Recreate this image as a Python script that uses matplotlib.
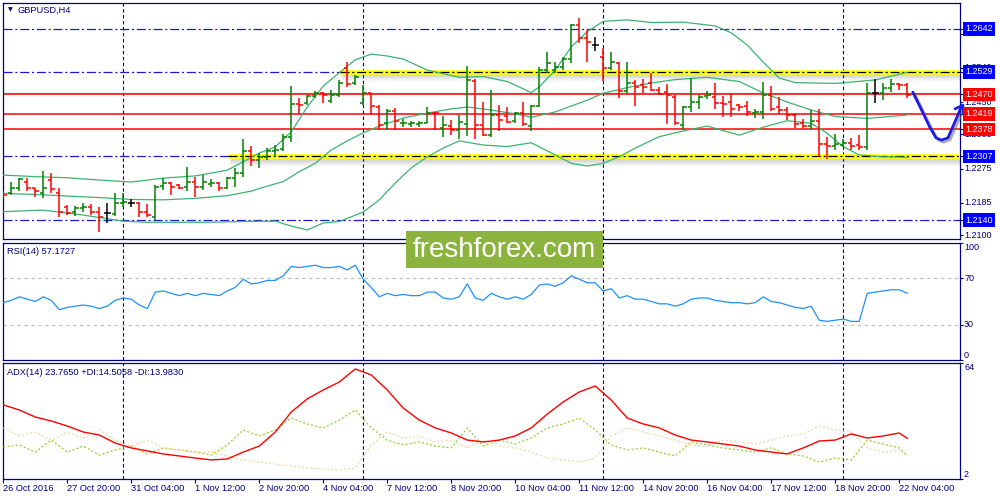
import matplotlib
matplotlib.use("Agg")
import matplotlib.pyplot as plt
import matplotlib.patheffects as pe
from matplotlib.patches import Rectangle
from matplotlib.transforms import blended_transform_factory

# ---------------- data ----------------
x_labels = ["26 Oct 2016", "27 Oct 20:00", "31 Oct 04:00", "1 Nov 12:00", "2 Nov 20:00",
            "4 Nov 04:00", "7 Nov 12:00", "8 Nov 20:00", "10 Nov 04:00", "11 Nov 12:00",
            "14 Nov 20:00", "16 Nov 04:00", "17 Nov 12:00", "18 Nov 20:00", "22 Nov 04:00"]
x_label_bars = [0, 8, 16, 24, 32, 40, 48, 56, 64, 72, 80, 88, 96, 104, 112]
sep_bars = [15, 45, 75, 105]

opens = [1.2210, 1.2210, 1.2223, 1.2241, 1.2223, 1.2210, 1.2245, 1.2210, 1.2175, 1.2162,
         1.2172, 1.2175, 1.2162, 1.2158, 1.2156, 1.2184, 1.2186, 1.2186, 1.2162, 1.2149,
         1.2229, 1.2238, 1.2232, 1.2228, 1.2241, 1.2228, 1.2235, 1.2238, 1.2223, 1.2250,
         1.2263, 1.2322, 1.2299, 1.2306, 1.2322, 1.2326, 1.2357, 1.2445, 1.2447, 1.2466,
         1.2473, 1.2454, 1.2469, 1.2539, 1.2499, 1.2447, 1.2473, 1.2438, 1.2394, 1.2427,
         1.2394, 1.2392, 1.2392, 1.2396, 1.2422, 1.2381, 1.2387, 1.2377, 1.2392, 1.2506,
         1.2390, 1.2363, 1.2416, 1.2413, 1.2401, 1.2420, 1.2387, 1.2440, 1.2534, 1.2534,
         1.2543, 1.2562, 1.2653, 1.2618, 1.2600, 1.2569, 1.2539, 1.2552, 1.2480, 1.2499,
         1.2495, 1.2499, 1.2482, 1.2477, 1.2464, 1.2390, 1.2438, 1.2451, 1.2466, 1.2464,
         1.2447, 1.2451, 1.2442, 1.2440, 1.2420, 1.2425, 1.2469, 1.2438, 1.2429, 1.2416,
         1.2394, 1.2387, 1.2399, 1.2340, 1.2335, 1.2337, 1.2343, 1.2337, 1.2331, 1.2473,
         1.2473, 1.2486, 1.2498, 1.2495]
highs = [1.2215, 1.2241, 1.2250, 1.2250, 1.2225, 1.2269, 1.2263, 1.2223, 1.2179, 1.2177,
         1.2184, 1.2182, 1.2175, 1.2186, 1.2212, 1.2212, 1.2194, 1.2188, 1.2182, 1.2232,
         1.2250, 1.2241, 1.2235, 1.2280, 1.2254, 1.2258, 1.2247, 1.2241, 1.2254, 1.2276,
         1.2353, 1.2335, 1.2315, 1.2328, 1.2337, 1.2366, 1.2492, 1.2460, 1.2469, 1.2479,
         1.2477, 1.2482, 1.2508, 1.2556, 1.2521, 1.2495, 1.2475, 1.2442, 1.2431, 1.2434,
         1.2405, 1.2401, 1.2401, 1.2436, 1.2425, 1.2413, 1.2403, 1.2416, 1.2545, 1.2510,
         1.2451, 1.2482, 1.2441, 1.2438, 1.2425, 1.2451, 1.2441, 1.2543, 1.2581, 1.2556,
         1.2569, 1.2655, 1.2670, 1.2639, 1.2620, 1.2591, 1.2582, 1.2556, 1.2554, 1.2508,
         1.2510, 1.2526, 1.2490, 1.2498, 1.2469, 1.2440, 1.2512, 1.2469, 1.2480, 1.2501,
         1.2466, 1.2473, 1.2445, 1.2453, 1.2433, 1.2504, 1.2491, 1.2464, 1.2438, 1.2422,
         1.2405, 1.2429, 1.2433, 1.2357, 1.2366, 1.2352, 1.2355, 1.2363, 1.2499, 1.2510,
         1.2501, 1.2510, 1.2499, 1.2499]
lows = [1.2194, 1.2206, 1.2217, 1.2215, 1.2201, 1.2197, 1.2210, 1.2147, 1.2153, 1.2151,
        1.2162, 1.2153, 1.2109, 1.2133, 1.2151, 1.2175, 1.2175, 1.2149, 1.2149, 1.2140,
        1.2219, 1.2207, 1.2221, 1.2215, 1.2201, 1.2219, 1.2228, 1.2217, 1.2221, 1.2228,
        1.2254, 1.2282, 1.2276, 1.2298, 1.2306, 1.2322, 1.2346, 1.2419, 1.2442, 1.2460,
        1.2448, 1.2447, 1.2464, 1.2489, 1.2495, 1.2442, 1.2416, 1.2378, 1.2377, 1.2377,
        1.2384, 1.2384, 1.2384, 1.2396, 1.2377, 1.2357, 1.2363, 1.2352, 1.2361, 1.2352,
        1.2361, 1.2357, 1.2375, 1.2396, 1.2396, 1.2387, 1.2375, 1.2438, 1.2526, 1.2526,
        1.2534, 1.2552, 1.2604, 1.2556, 1.2585, 1.2505, 1.2534, 1.2460, 1.2475, 1.2440,
        1.2475, 1.2480, 1.2469, 1.2392, 1.2390, 1.2378, 1.2425, 1.2431, 1.2457, 1.2431,
        1.2410, 1.2410, 1.2427, 1.2413, 1.2407, 1.2406, 1.2427, 1.2419, 1.2403, 1.2381,
        1.2381, 1.2378, 1.2305, 1.2300, 1.2324, 1.2333, 1.2324, 1.2324, 1.2324, 1.2448,
        1.2455, 1.2477, 1.2482, 1.2460]
closes = [1.2206, 1.2225, 1.2247, 1.2225, 1.2215, 1.2223, 1.2221, 1.2162, 1.2159, 1.2172,
          1.2175, 1.2162, 1.2149, 1.2158, 1.2186, 1.2188, 1.2186, 1.2162, 1.2153, 1.2228,
          1.2238, 1.2228, 1.2225, 1.2241, 1.2228, 1.2241, 1.2238, 1.2223, 1.2250, 1.2263,
          1.2322, 1.2299, 1.2306, 1.2322, 1.2324, 1.2357, 1.2445, 1.2442, 1.2466, 1.2475,
          1.2469, 1.2469, 1.2501, 1.2497, 1.2517, 1.2473, 1.2440, 1.2390, 1.2427, 1.2401,
          1.2396, 1.2396, 1.2396, 1.2422, 1.2420, 1.2390, 1.2377, 1.2398, 1.2508, 1.2390,
          1.2363, 1.2416, 1.2403, 1.2398, 1.2420, 1.2392, 1.2440, 1.2534, 1.2552, 1.2543,
          1.2562, 1.2653, 1.2618, 1.2609, 1.2600, 1.2539, 1.2556, 1.2480, 1.2499, 1.2489,
          1.2490, 1.2482, 1.2471, 1.2469, 1.2394, 1.2438, 1.2451, 1.2464, 1.2469, 1.2447,
          1.2445, 1.2433, 1.2438, 1.2425, 1.2425, 1.2469, 1.2433, 1.2429, 1.2416, 1.2392,
          1.2387, 1.2399, 1.2340, 1.2335, 1.2340, 1.2342, 1.2335, 1.2333, 1.2473, 1.2473,
          1.2486, 1.2498, 1.2495, 1.2469]

bb_upper_idx = [0, 4, 8, 12, 16, 20, 24, 28, 30, 32, 34, 36, 38, 40, 42, 44, 46, 48, 50, 53,
                57, 60, 63, 66, 67, 69, 71, 73, 75, 78, 81, 85, 89, 91, 93, 95, 97, 99, 104, 109, 113]
bb_upper = [1.2258, 1.2254, 1.2251, 1.2245, 1.2240, 1.2250, 1.2256, 1.2271, 1.2293, 1.2316,
            1.2332, 1.2372, 1.2437, 1.2492, 1.2527, 1.2561, 1.2576, 1.2571, 1.2563, 1.2534,
            1.2515, 1.2517, 1.2504, 1.2475, 1.2490, 1.2534, 1.2595, 1.2635, 1.2662, 1.2666,
            1.2659, 1.2660, 1.2650, 1.2632, 1.2600, 1.2555, 1.2513, 1.2501, 1.2499, 1.2508, 1.2528]
bb_mid_idx = [0, 4, 8, 12, 16, 20, 24, 28, 31, 33, 35, 37, 39, 41, 43, 45, 47, 50, 53, 56,
              58, 61, 64, 66, 69, 73, 75, 78, 81, 84, 88, 92, 95, 98, 101, 104, 108, 113]
bb_mid = [1.2210, 1.2207, 1.2203, 1.2199, 1.2194, 1.2193, 1.2197, 1.2204, 1.2216, 1.2229,
          1.2241, 1.2267, 1.2289, 1.2324, 1.2348, 1.2369, 1.2387, 1.2408, 1.2421, 1.2432,
          1.2437, 1.2429, 1.2419, 1.2410, 1.2424, 1.2455, 1.2473, 1.2488, 1.2500, 1.2509,
          1.2515, 1.2504, 1.2474, 1.2450, 1.2429, 1.2412, 1.2407, 1.2416]
bb_lower_idx = [0, 5, 10, 15, 18, 25, 30, 34, 36, 38, 40, 42, 45, 47, 49, 51, 53, 55, 57, 60,
                63, 66, 69, 71, 73, 75, 77, 79, 82, 85, 88, 92, 95, 98, 101, 103, 105, 107, 110, 113]
bb_lower = [1.2162, 1.2166, 1.2153, 1.2137, 1.2134, 1.2134, 1.2136, 1.2137, 1.2124, 1.2114,
            1.2132, 1.2136, 1.2161, 1.2193, 1.2237, 1.2277, 1.2306, 1.2329, 1.2348, 1.2337,
            1.2333, 1.2343, 1.2311, 1.2289, 1.2282, 1.2289, 1.2306, 1.2329, 1.2359, 1.2374,
            1.2387, 1.2363, 1.2384, 1.2401, 1.2394, 1.2368, 1.2333, 1.2311, 1.2306, 1.2305]

rsi = [49, 51, 54, 52, 50, 54, 51, 43, 45, 46, 47, 46, 44, 46, 51, 53, 52, 47, 44, 58,
       59, 57, 55, 57, 55, 57, 56, 55, 59, 62, 69, 65, 66, 68, 68, 72, 80, 79, 80, 81,
       79, 79, 80, 77, 81, 69, 62, 54, 57, 55, 56, 55, 55, 58, 58, 53, 52, 54, 65, 53,
       51, 57, 54, 52, 54, 52, 56, 64, 65, 63, 66, 72, 69, 66, 66, 59, 61, 53, 55, 52,
       52, 50, 48, 48, 46, 48, 52, 53, 53, 51, 50, 49, 49, 48, 49, 54, 50, 49, 47, 45,
       44, 46, 34, 33, 34, 35, 33, 33, 57, 58, 59, 60, 60, 57.1727]

adx_idx = list(range(0, 113, 2)) + [113]
adx = [41.6, 38.9, 35.1, 33.0, 30.3, 27.1, 25.5, 21.2, 18.6, 17.0, 15.4, 14.3, 13.2, 12.2, 12.7,
       16.4, 19.6, 27.1, 37.8, 44.8, 49.6, 53.8, 60.8, 57.6, 49.6, 39.9, 33.5, 29.3, 26.6, 22.8,
       21.8, 22.8, 25.0, 29.3, 36.7, 43.2, 48.5, 51.7, 44.2, 34.6, 31.4, 29.3, 25.5, 22.8, 21.8,
       20.7, 19.6, 17.5, 16.4, 15.4, 18.6, 22.3, 22.8, 26.1, 23.9, 25.0, 26.6, 23.765]
plus_di = [19.1, 20.2, 16.4, 22.8, 16.4, 19.6, 14.8, 17.5, 19.6, 15.4, 18.6, 17.5, 16.4, 14.8, 20.2,
           28.2, 25.0, 28.2, 34.6, 31.4, 29.3, 33.5, 38.9, 29.3, 22.8, 20.2, 21.8, 19.6, 18.6, 29.3,
           19.6, 22.8, 20.7, 23.9, 29.3, 31.4, 34.6, 28.2, 20.2, 17.5, 18.6, 16.4, 14.3, 21.8, 20.2,
           18.6, 17.5, 16.4, 18.6, 15.4, 14.3, 11.1, 13.2, 12.2, 22.8, 20.7, 18.6, 14.5058]
minus_di = [29.3, 25.0, 27.1, 22.8, 27.1, 23.9, 28.2, 22.8, 19.6, 22.8, 18.6, 17.5, 16.4, 16.4, 14.3,
            12.2, 11.1, 10.0, 8.9, 7.9, 7.3, 6.8, 7.9, 20.2, 27.1, 23.9, 25.0, 21.8, 22.8, 18.6,
            22.8, 19.6, 18.6, 16.4, 13.2, 12.2, 11.1, 13.2, 25.0, 29.3, 27.1, 25.0, 22.8, 20.2, 19.6,
            22.8, 21.8, 20.7, 22.8, 25.0, 26.1, 30.3, 28.2, 27.1, 18.6, 16.4, 17.5, 13.9830]

price_ticks = [1.2630, 1.2540, 1.2450, 1.2365, 1.2275, 1.2185, 1.2100]
blue_levels = [1.2642, 1.2529, 1.2307, 1.2140]
red_levels = [1.2470, 1.2419, 1.2378]
yellow_levels = [1.2529, 1.2307]
yellow_start_bars = [42.1, 28.1]
box_levels = [1.2642, 1.2529, 1.2470, 1.2419, 1.2378, 1.2307, 1.2140]
box_colors = ["#0000ff", "#0000ff", "#ff0000", "#ff0000", "#ff0000", "#0000ff", "#0000ff"]

# hand-drawn forecast arrow (bar index, price)
arrow_x = [113.7, 114.8, 115.8, 116.6, 117.3, 118.1, 118.8, 119.6]
arrow_y = [1.2476, 1.2429, 1.2385, 1.2356, 1.2350, 1.2356, 1.2390, 1.2429]
arrow_tip = (120.1, 1.2447)

# ---------------- style ----------------
NAVY = "#000080"
plt.rcParams["font.family"] = ["Liberation Sans", "DejaVu Sans"]
plt.rcParams["lines.scale_dashes"] = False

fig = plt.figure(figsize=(10, 5), dpi=100)
fig.patch.set_facecolor("white")


def frac(l, t, r, b):
    return [l / 1000, 1 - b / 500, (r - l) / 1000, (b - t) / 500]


ax1 = fig.add_axes(frac(2.5, 3, 960, 239))
ax2 = fig.add_axes(frac(2.5, 243, 960, 360))
ax3 = fig.add_axes(frac(2.5, 363, 960, 479))

XMIN, XMAX = -0.1, 119.6
n = len(closes)
bars = list(range(n))

for ax in (ax1, ax2, ax3):
    ax.set_xlim(XMIN, XMAX)
    ax.set_facecolor("white")
    for s in ax.spines.values():
        s.set_color(NAVY)
        s.set_linewidth(0.9)
    ax.set_xticks([])
    ax.yaxis.set_ticks_position("right")
    ax.tick_params(axis="y", length=2.5, color=NAVY, width=0.8, labelright=False, labelleft=False)
    for v in sep_bars:
        ax.axvline(v, color=NAVY, lw=0.8, dashes=(2.5, 1.8), zorder=1)

# ---------------- main price panel ----------------
ax1.set_ylim(1.20901, 1.27103)
ax1.set_yticks(price_ticks + box_levels)

for lvl in blue_levels:
    ax1.axhline(lvl, color="#1a1ad0", lw=0.9, dashes=(6.5, 2, 1.5, 2), zorder=2)
ax1.axhline(1.24745, color="#c8c8c8", lw=1.0, zorder=2)
for lvl in red_levels:
    ax1.axhline(lvl, color="#ff0000", lw=1.1, zorder=2)

px = (1.27103 - 1.20901) / 236.0
for lvl, st in zip(yellow_levels, yellow_start_bars):
    for k in range(1, 8):
        ax1.hlines(lvl - (1.5 + k) * px, st + 0.3, XMAX, color="#707070",
                   alpha=0.28 * (1 - k / 8), lw=1.0, zorder=2.5)
    ax1.hlines(lvl, st, XMAX, color="#ffff00", lw=3.3, zorder=3)
    ax1.hlines(lvl, st, XMAX, color="black", lw=0.9, linestyles=[(0, (6.5, 2, 1.5, 2))], zorder=3.5)

ax1.plot(bb_upper_idx, bb_upper, color="#3cb371", lw=0.9, zorder=4)
ax1.plot(bb_mid_idx, bb_mid, color="#3cb371", lw=0.9, zorder=4)
ax1.plot(bb_lower_idx, bb_lower, color="#3cb371", lw=0.9, zorder=4)

cols = ["#008000" if c > o else ("#ff0000" if c < o else "black") for o, c in zip(opens, closes)]
ax1.vlines(bars, lows, highs, colors=cols, lw=1.1, zorder=5)
ax1.hlines(opens, [b - 0.42 for b in bars], bars, colors=cols, lw=1.1, zorder=5)
ax1.hlines(closes, bars, [b + 0.42 for b in bars], colors=cols, lw=1.1, zorder=5)

shadow = [pe.SimpleLineShadow(offset=(1.5, -1.5), shadow_color="#606060", alpha=0.5), pe.Normal()]
ax1.plot(arrow_x, arrow_y, color="#1c1ce6", lw=2.0, clip_on=False, zorder=9,
         solid_capstyle="round", solid_joinstyle="round", path_effects=shadow)
ax1.annotate("", xy=arrow_tip, xytext=(arrow_x[-1], arrow_y[-1]), annotation_clip=False,
             arrowprops=dict(arrowstyle="->,head_length=0.5,head_width=0.35", color="#1c1ce6",
                             lw=2.0, shrinkA=0, shrinkB=0), zorder=9)

tr1 = blended_transform_factory(ax1.transAxes, ax1.transData)
for v in price_ticks:
    ax1.text(1.0042, v, f"{v:.4f}", transform=tr1, fontsize=6.5, color=NAVY,
             va="center", ha="left", clip_on=False, zorder=10)
for v, c in zip(box_levels, box_colors):
    ax1.text(1.0055, v, f"{v:.4f}", transform=tr1, fontsize=6.5, color="white",
             va="center", ha="left", clip_on=False, zorder=11,
             bbox=dict(boxstyle="square,pad=0.25", fc=c, ec="none"))

# ---------------- RSI panel ----------------
ax2.set_ylim(0, 100)
ax2.set_yticks([100, 70, 30, 0])
for lvl in (70, 30):
    ax2.axhline(lvl, color="#c0c0c0", lw=0.9, dashes=(2.5, 2.5), zorder=2)
ax2.plot(bars, rsi, color="#1e90ff", lw=0.9, zorder=4)
tr2 = blended_transform_factory(ax2.transAxes, ax2.transData)
for v, va in ((100, "top"), (70, "center"), (30, "center"), (0, "bottom")):
    ax2.text(1.0042, v, str(v), transform=tr2, fontsize=6.5, color=NAVY,
             va=va, ha="left", clip_on=False)

# ---------------- ADX panel ----------------
ax3.set_ylim(2, 64)
ax3.set_yticks([64, 2])
ax3.plot(adx_idx, plus_di, color="#9acd32", lw=0.9, dashes=(1.5, 1.5), zorder=3)
ax3.plot(adx_idx, minus_di, color="#f0d8a8", lw=0.9, dashes=(1.5, 1.5), zorder=3)
ax3.plot(adx_idx, adx, color="#ff0000", lw=1.0, zorder=4)
tr3 = blended_transform_factory(ax3.transAxes, ax3.transData)
ax3.text(1.0042, 64, "64", transform=tr3, fontsize=6.5, color=NAVY, va="top", ha="left", clip_on=False)
ax3.text(1.0042, 2, "2", transform=tr3, fontsize=6.5, color=NAVY, va="bottom", ha="left", clip_on=False)

ax3.set_xticks(x_label_bars)
ax3.tick_params(axis="x", length=3, color=NAVY, width=0.8, labelbottom=False)
trx = blended_transform_factory(ax3.transData, fig.transFigure)
for b, lab in zip(x_label_bars, x_labels):
    ax3.text(b, 1 - 488.5 / 500, lab, transform=trx, fontsize=6.7, color=NAVY,
             ha="left", va="center", clip_on=False)

# ---------------- panel captions ----------------
fig.text(8 / 1000, 1 - 10 / 500, "\u25BC", fontsize=4.5, color=NAVY, va="center",
         family=["DejaVu Sans"])
fig.text(18 / 1000, 1 - 10 / 500, "GBPUSD,H4", fontsize=6.7, color=NAVY, va="center")
fig.text(7 / 1000, 1 - 252 / 500, "RSI(14) 57.1727", fontsize=6.7, color=NAVY, va="center")
fig.text(7 / 1000, 1 - 372.5 / 500, "ADX(14) 23.7650 +DI:14.5058 -DI:13.9830", fontsize=6.7,
         color=NAVY, va="center")

# ---------------- watermark ----------------
fig.add_artist(Rectangle((406 / 1000, 1 - 268 / 500), 197 / 1000, 37 / 500,
                         transform=fig.transFigure, fc="#8db33f", ec="none", zorder=20))
fig.text(504.5 / 1000, 1 - 250 / 500, "freshforex.com", fontsize=20, color="white",
         ha="center", va="center", zorder=21)

fig.savefig("out.png", dpi=100)
